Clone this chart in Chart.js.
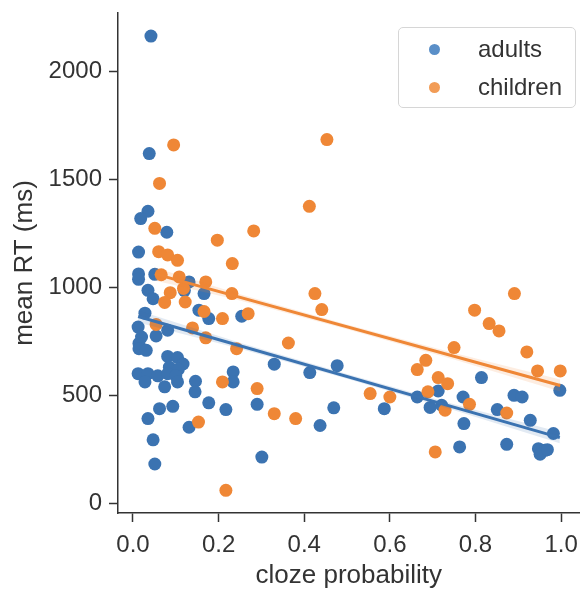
<!DOCTYPE html>
<html>
<head>
<meta charset="utf-8">
<script src="https://cdn.jsdelivr.net/npm/chart.js@4.4.1/dist/chart.umd.min.js"></script>
<style>
  html, body { margin: 0; padding: 0; background: #fff; }
  #wrap { position: relative; width: 586px; height: 589px; overflow: hidden; }
  #legend {
    position: absolute; left: 398px; top: 27px; width: 176px; height: 79px;
    border: 1px solid #d6d6d6; border-radius: 5px; background: rgba(255,255,255,0.8);
    font-family: "Liberation Sans", Arial, sans-serif; font-size: 24px; color: #333;
  }
  .item { position: absolute; left: 0; height: 30px; line-height: 30px; }
  .dot { position: absolute; left: 30px; top: 10px; width: 11px; height: 11px; border-radius: 50%; }
  .lbl { position: absolute; left: 79px; top: 0; white-space: nowrap; }
</style>
</head>
<body>
<div id="wrap">
  <canvas id="chart" width="586" height="589"></canvas>
  <div id="legend">
    <div class="item" style="top:6px"><span class="dot" style="background:#5a8fc8"></span><span class="lbl">adults</span></div>
    <div class="item" style="top:44px"><span class="dot" style="background:#f29c56"></span><span class="lbl">children</span></div>
  </div>
</div>
<script>
// cloze probability (x) and mean RT in ms (y)
const adultsX = [0.042, 0.038, 0.035, 0.018, 0.079, 0.013, 0.013, 0.013, 0.051, 0.131, 0.035, 0.12, 0.166, 0.047, 0.028, 0.154, 0.177, 0.254,
  0.012, 0.081, 0.020, 0.054, 0.014, 0.014, 0.031, 0.081, 0.104, 0.117, 0.085, 0.106, 0.012, 0.035, 0.058, 0.081, 0.100,
  0.028, 0.074, 0.104, 0.146, 0.145, 0.234, 0.234, 0.177, 0.062, 0.093, 0.217, 0.290, 0.035, 0.131, 0.047, 0.051, 0.301,
  0.330, 0.413, 0.477, 0.437, 0.469, 0.587, 0.664, 0.814, 0.713, 0.771, 0.890, 0.909, 0.997, 0.694, 0.721, 0.851, 0.928,
  0.773, 0.982, 0.763, 0.873, 0.947, 0.962, 0.951, 0.968];
const adultsY = [2163, 1619, 1352, 1318, 1255, 1163, 1062, 1037, 1060, 1025, 986, 985, 971, 947, 880, 894, 855, 866,
  816, 801, 770, 775, 740, 716, 708, 680, 675, 645, 630, 620, 600, 600, 590, 600, 590,
  562, 539, 562, 565, 516, 608, 562, 465, 438, 449, 434, 458, 392, 352, 294, 182, 214,
  644, 605, 637, 360, 442, 438, 492, 582, 520, 492, 500, 492, 523, 444, 454, 434, 384,
  369, 323, 261, 273, 253, 245, 227, 248];

const childrenX = [0.095, 0.062, 0.051, 0.197, 0.282, 0.060, 0.081, 0.104, 0.232, 0.066, 0.108, 0.118, 0.170, 0.087, 0.231,
  0.074, 0.122, 0.166, 0.209, 0.269, 0.054, 0.139, 0.170, 0.242, 0.209, 0.290, 0.153, 0.217,
  0.453, 0.412, 0.425, 0.441, 0.363, 0.330, 0.380, 0.554, 0.600, 0.664, 0.891, 0.798, 0.832, 0.855,
  0.750, 0.920, 0.684, 0.945, 0.998, 0.713, 0.735, 0.689, 0.786, 0.729, 0.873, 0.706];
const childrenY = [1659, 1481, 1273, 1218, 1261, 1165, 1150, 1125, 1110, 1058, 1048, 995, 1025, 975, 971,
  930, 932, 888, 855, 878, 828, 812, 766, 716, 562, 531, 376, 60,
  1684, 1375, 971, 897, 742, 415, 392, 508, 492, 619, 971, 894, 832, 798,
  721, 701, 662, 613, 613, 582, 554, 516, 458, 431, 418, 238];

// fitted regression lines and their confidence band
const adultsFitX = [0.012, 0.997];
const adultsFitY = [865, 304];
const childrenFitX = [0.051, 0.998];
const childrenFitY = [1062, 545];
const bandX = [0, 0.25, 0.5, 0.75, 1];
const adultsBandHalf = [28, 14, 11, 14, 26];
const childrenBandHalf = [30, 15, 11, 15, 28];

const xTicks = [0.0, 0.2, 0.4, 0.6, 0.8, 1.0];
const yTicks = [0, 500, 1000, 1500, 2000];

const BLUE = "#3b73b1";
const ORANGE = "#ef8736";

const pts = (xs, ys) => xs.map((x, i) => ({ x: x, y: ys[i] }));
const lineAt = (fx, fy, x) => fy[0] + (fy[1] - fy[0]) * (x - fx[0]) / (fx[1] - fx[0]);
const band = (fx, fy, half, sign) => bandX
  .filter(x => x >= fx[0] - 1e-9 && x <= fx[1] + 1e-9 || x === bandX[0] || x === bandX[bandX.length - 1])
  .map(x => {
    const cx = Math.min(Math.max(x, fx[0]), fx[1]);
    return { x: cx, y: lineAt(fx, fy, cx) + sign * half[bandX.indexOf(x)] };
  });

const font = { family: "'Liberation Sans', Arial, sans-serif", size: 24 };
const titleFont = { family: "'Liberation Sans', Arial, sans-serif", size: 26, lineHeight: 1 };

const fitAxis = (w, h) => scale => {
  if (w) scale.width = w;
  if (h) scale.height = h;
  scale.paddingTop = 0; scale.paddingBottom = 0;
  scale.paddingLeft = 0; scale.paddingRight = 0;
};

new Chart(document.getElementById("chart").getContext("2d"), {
  type: "scatter",
  data: {
    datasets: [
      { label: "adults", data: pts(adultsX, adultsY), backgroundColor: BLUE, borderWidth: 0, pointRadius: 6.5, order: 3 },
      { label: "children", data: pts(childrenX, childrenY), backgroundColor: ORANGE, borderWidth: 0, pointRadius: 6.5, order: 2 },
      { type: "line", data: band(adultsFitX, adultsFitY, adultsBandHalf, -1), borderWidth: 0, pointRadius: 0, fill: false, order: 1 },
      { type: "line", data: band(adultsFitX, adultsFitY, adultsBandHalf, 1), borderWidth: 0, pointRadius: 0,
        fill: "-1", backgroundColor: "rgba(59,115,177,0.15)", order: 1 },
      { type: "line", data: band(childrenFitX, childrenFitY, childrenBandHalf, -1), borderWidth: 0, pointRadius: 0, fill: false, order: 1 },
      { type: "line", data: band(childrenFitX, childrenFitY, childrenBandHalf, 1), borderWidth: 0, pointRadius: 0,
        fill: "-1", backgroundColor: "rgba(239,135,54,0.15)", order: 1 },
      { type: "line", data: pts(adultsFitX, adultsFitY), borderColor: BLUE, borderWidth: 3, pointRadius: 0, order: 0 },
      { type: "line", data: pts(childrenFitX, childrenFitY), borderColor: ORANGE, borderWidth: 3, pointRadius: 0, order: 0 }
    ]
  },
  options: {
    responsive: false,
    animation: false,
    devicePixelRatio: 1,
    layout: { padding: { top: 13, right: 0, left: 0, bottom: 0 } },
    plugins: { legend: { display: false }, tooltip: { enabled: false } },
    scales: {
      x: {
        type: "linear",
        min: -0.035,
        max: 1.043,
        afterBuildTicks: scale => { scale.ticks = xTicks.map(v => ({ value: v })); },
        afterFit: fitAxis(0, 76),
        ticks: { color: "#333", font: font, padding: 9, maxRotation: 0, callback: v => v.toFixed(1) },
        grid: { drawOnChartArea: false, drawTicks: true, tickLength: 9, tickWidth: 1.5, tickColor: "#333" },
        border: { display: true, color: "#333", width: 1.5 },
        title: { display: true, text: "cloze probability", color: "#333", font: titleFont, padding: { top: 0, bottom: 0 } }
      },
      y: {
        type: "linear",
        min: -45,
        max: 2270,
        afterBuildTicks: scale => { scale.ticks = yTicks.map(v => ({ value: v })); },
        afterFit: fitAxis(118, 0),
        ticks: { color: "#333", font: font, padding: 7, callback: v => String(v) },
        grid: { drawOnChartArea: false, drawTicks: true, tickLength: 9, tickWidth: 1.5, tickColor: "#333" },
        border: { display: true, color: "#333", width: 1.5 },
        title: { display: true, text: "mean RT (ms)", color: "#333", font: titleFont, padding: { top: 12, bottom: 0 } }
      }
    }
  }
});
</script>
</body>
</html>
